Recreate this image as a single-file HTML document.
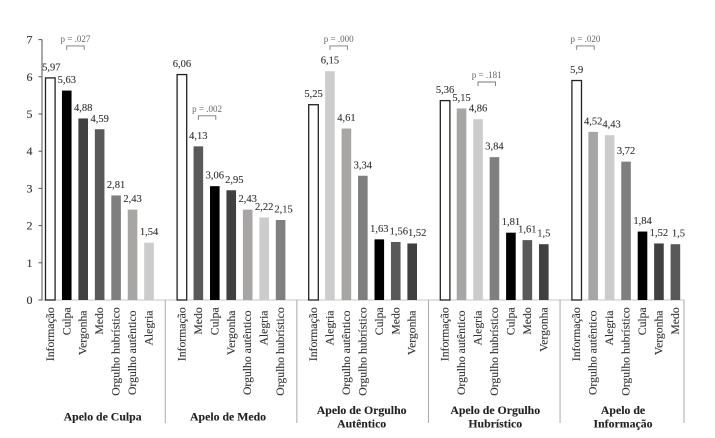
<!DOCTYPE html>
<html lang="pt">
<head>
<meta charset="utf-8">
<title>Apelos emocionais</title>
<style>
html,body{margin:0;padding:0;background:#fff;width:715px;height:438px;overflow:hidden}
svg{display:block;filter:blur(0.35px)}
text{font-family:"Liberation Serif",serif;stroke:#333;stroke-width:0.12px}
</style>
</head>
<body>
<svg id="chart" width="715" height="438" viewBox="0 0 715 438" xmlns="http://www.w3.org/2000/svg"></svg>
<script>
const yTicks = [0, 1, 2, 3, 4, 5, 6, 7];
const titlesCulpa = ['Apelo de Culpa'];
const titlesMedo = ['Apelo de Medo'];
const titlesAutentico = ['Apelo de Orgulho', 'Autêntico'];
const titlesHubristico = ['Apelo de Orgulho', 'Hubrístico'];
const titlesInformacao = ['Apelo de', 'Informação'];

const categoriesCulpa = ['Informação', 'Culpa', 'Vergonha', 'Medo', 'Orgulho hubrístico', 'Orgulho autêntico', 'Alegria'];
const valuesCulpa = [5.97, 5.63, 4.88, 4.59, 2.81, 2.43, 1.54];
const categoriesMedo = ['Informação', 'Medo', 'Culpa', 'Vergonha', 'Orgulho autêntico', 'Alegria', 'Orgulho hubrístico'];
const valuesMedo = [6.06, 4.13, 3.06, 2.95, 2.43, 2.22, 2.15];
const categoriesAutentico = ['Informação', 'Alegria', 'Orgulho autêntico', 'Orgulho hubrístico', 'Culpa', 'Medo', 'Vergonha'];
const valuesAutentico = [5.25, 6.15, 4.61, 3.34, 1.63, 1.56, 1.52];
const categoriesHubristico = ['Informação', 'Orgulho autêntico', 'Alegria', 'Orgulho hubrístico', 'Culpa', 'Medo', 'Vergonha'];
const valuesHubristico = [5.36, 5.15, 4.86, 3.84, 1.81, 1.61, 1.5];
const categoriesInformacao = ['Informação', 'Orgulho autêntico', 'Alegria', 'Orgulho hubrístico', 'Culpa', 'Vergonha', 'Medo'];
const valuesInformacao = [5.9, 4.52, 4.43, 3.72, 1.84, 1.52, 1.5];

const pLabels = ['p = .027', 'p = .002', 'p = .000', 'p = .181', 'p = .020'];
const pLevels = [6.83, 4.95, 6.83, 5.86, 6.83];
const pFromBars = [1, 1, 1, 2, 0];

const groups = [
  {title: titlesCulpa, cats: categoriesCulpa, vals: valuesCulpa},
  {title: titlesMedo, cats: categoriesMedo, vals: valuesMedo},
  {title: titlesAutentico, cats: categoriesAutentico, vals: valuesAutentico},
  {title: titlesHubristico, cats: categoriesHubristico, vals: valuesHubristico},
  {title: titlesInformacao, cats: categoriesInformacao, vals: valuesInformacao}
];

const emotionFill = {
  'Informação': '#ffffff', 'Culpa': '#000000', 'Vergonha': '#404040', 'Medo': '#595959',
  'Orgulho hubrístico': '#7f7f7f', 'Orgulho autêntico': '#a8a6a4', 'Alegria': '#cccccc'
};
const labelNudge = {'0-0': 1, '1-3': 3, '1-6': 3, '2-5': 3, '2-6': 5, '4-2': 2, '4-6': 3};
const titleNudge = [-1, -3, -1, 1, 1];
const shiftedEmotions = ['Vergonha', 'Orgulho autêntico', 'Alegria'];

const svg = document.getElementById('chart');
const NS = 'http://www.w3.org/2000/svg';
const plotLeft = 42, plotRight = 684, baseY = 300, unitH = 37.2, firstCenter = 50.3, step = 16.45, barW = 9.6;
const yPos = v => baseY - v * unitH;
const xPos = (g, i) => firstCenter + (g * 8 + i) * step;
const boundary = g => g === 0 ? plotLeft : g === 5 ? plotRight : firstCenter + (g * 8 - 1) * step - 0.2;

function make(tag, attrs, text) {
  const el = document.createElementNS(NS, tag);
  for (const k in attrs) el.setAttribute(k, attrs[k]);
  if (text !== undefined) el.textContent = text;
  svg.appendChild(el);
  return el;
}

// x axis
const xAxis = make('line', {x1: plotLeft, y1: baseY, x2: boundary(5), y2: baseY, stroke: '#c4c4c4', 'stroke-width': 1});



// group separators
for (let g = 1; g <= 5; g++) {
  const sep = make('line', {x1: boundary(g), y1: baseY, x2: boundary(g), y2: 423, stroke: '#a8a8a8', 'stroke-width': 1});
  
  
}

// y axis
const yAxis = make('line', {x1: plotLeft, y1: yPos(7), x2: plotLeft, y2: baseY, stroke: '#707070', 'stroke-width': 1.2});



yTicks.forEach(t => {
  const mark = make('line', {x1: 38.5, y1: yPos(t), x2: plotLeft, y2: yPos(t), stroke: '#555', 'stroke-width': 1});
  
  
  const lab = make('text', {x: 32.5, y: yPos(t) + 4, 'text-anchor': 'end', 'font-size': 12, fill: '#333'}, String(t));
  
  
});

groups.forEach((grp, g) => {
  grp.vals.forEach((v, i) => {
    const cat = grp.cats[i];
    const cx = xPos(g, i);
    const isOutline = cat === 'Informação';
    const bar = make('rect', {
      x: cx - barW / 2, y: yPos(v), width: barW, height: baseY - yPos(v),
      fill: emotionFill[cat], stroke: isOutline ? '#222' : 'none', 'stroke-width': isOutline ? 1.3 : 0
    });
    
    

    const nudge = labelNudge[g + '-' + i] || 0;
    const val = make('text', {x: cx + nudge, y: yPos(v) - 7.5, 'text-anchor': 'middle', 'font-size': 10.5, fill: '#333'}, String(v).replace('.', ','));
    
    

    const shifted = shiftedEmotions.includes(cat) && !(g === 3 && cat === 'Vergonha');
    const top = shifted ? 310.5 : 307.3;
    const catText = make('text', {
      transform: 'translate(' + (cx + 3.5) + ',' + top + ') rotate(-90)',
      'text-anchor': 'end', 'font-size': 11.7, fill: '#333'
    }, cat);
    
    
  });

  const mid = (boundary(g) + boundary(g + 1)) / 2 + titleNudge[g];
  grp.title.forEach((line, n) => {
    const lineY = grp.title.length === 1 ? 420.5 : 414 + n * 13.3;
    const t = make('text', {x: mid, y: lineY, 'text-anchor': 'middle', 'font-size': 11.8, 'font-weight': 'bold', fill: '#222'}, line);
    
    
  });

  const x1 = xPos(g, pFromBars[g]);
  const x2 = xPos(g, pFromBars[g] + 1) + 1;
  const by = yPos(pLevels[g]);
  const bracket = make('path', {d: 'M' + x1 + ' ' + (by + 4) + 'V' + by + 'H' + x2 + 'V' + (by + 4), fill: 'none', stroke: '#777', 'stroke-width': 0.9});
  
  
  const pText = make('text', {x: (x1 + x2) / 2, y: by - 4, 'text-anchor': 'middle', 'font-size': 9, fill: '#666', style: 'stroke:none'}, pLabels[g]);
  
  
});
</script>
</body>
</html>
